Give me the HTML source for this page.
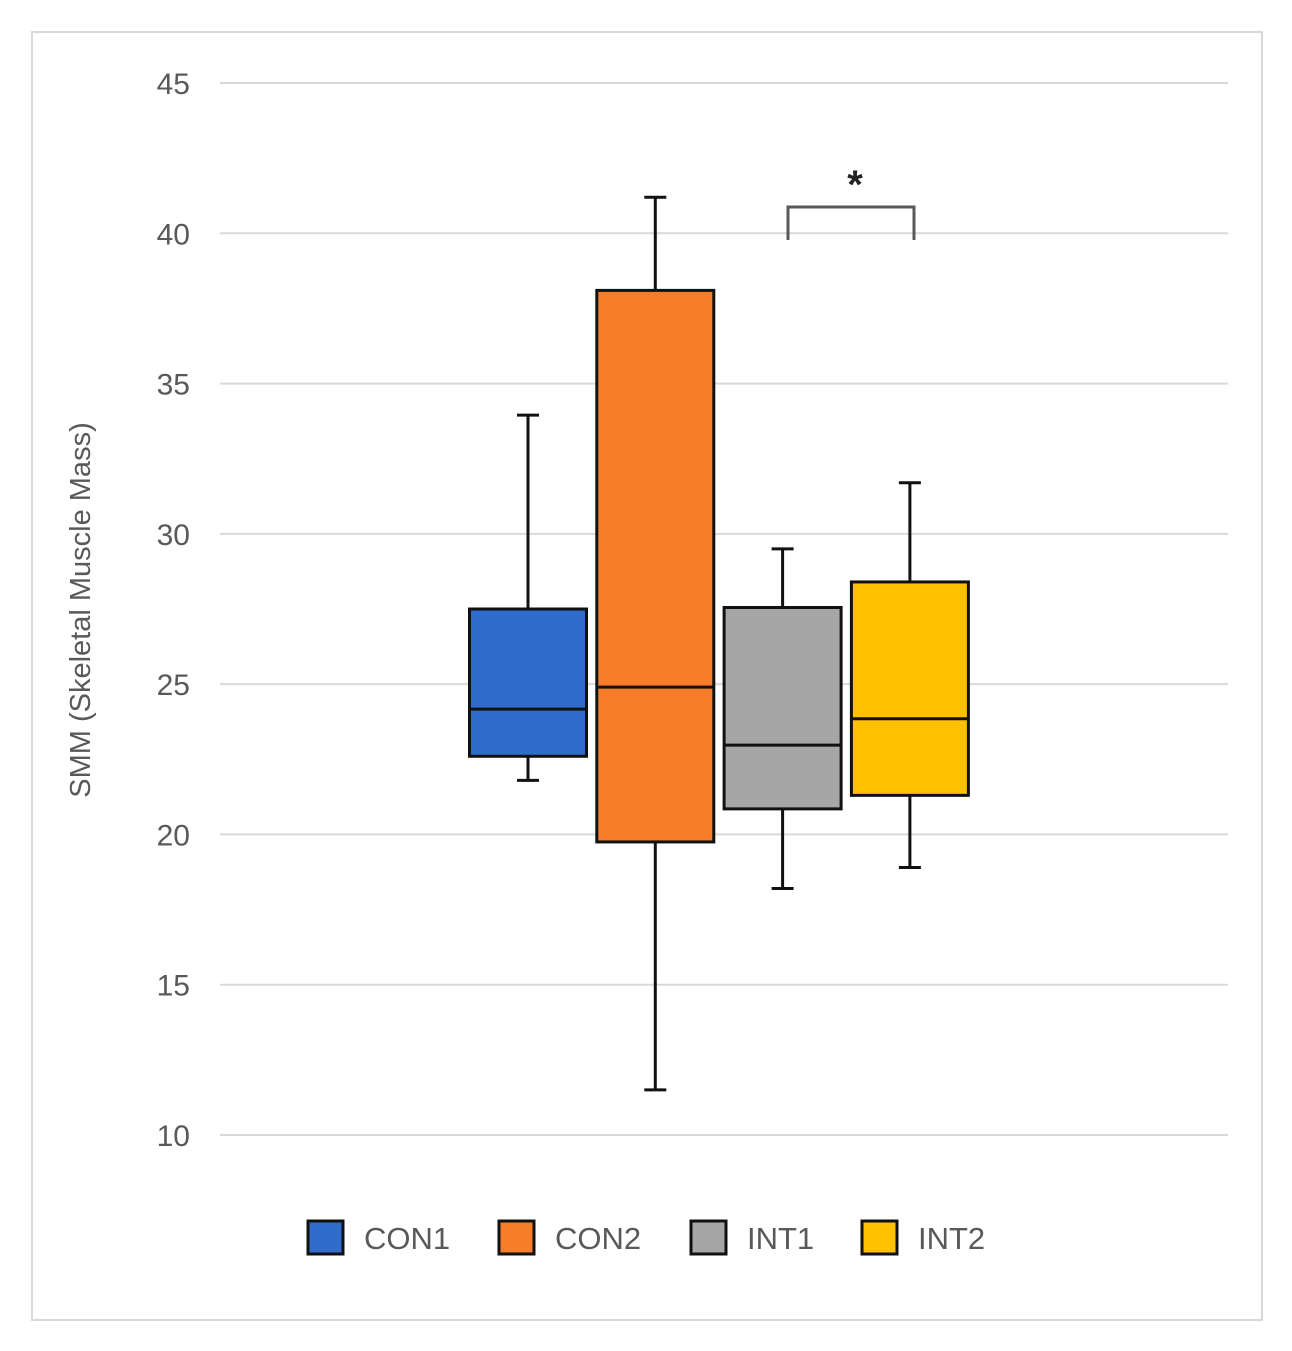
<!DOCTYPE html>
<html><head><meta charset="utf-8"><style>
body{margin:0;background:#fff;}
svg{display:block;font-family:"Liberation Sans",sans-serif;}
</style></head><body>
<svg id="chart" width="1292" height="1351" viewBox="0 0 1292 1351">
<rect x="32" y="32" width="1230" height="1288" fill="#fff" stroke="#d9d9d9" stroke-width="2"/>
<g id="grid"></g><g id="boxes"></g><g id="legend"></g>
<text x="90" y="610" transform="rotate(-90 90 610)" text-anchor="middle" font-size="29" fill="#595959">SMM (Skeletal Muscle Mass)</text>
<path d="M788 240 V207 H914 V240" fill="none" stroke="#595959" stroke-width="3"/>
<text x="855" y="198" text-anchor="middle" font-size="40" font-weight="bold" fill="#222">*</text>
</svg>
<script>
const categories=["CON1","CON2","INT1","INT2"];
const mins=[21.8,11.5,18.2,18.9];
const q1s=[22.6,19.75,20.85,21.3];
const medians=[24.17,24.9,22.97,23.85];
const q3s=[27.5,38.1,27.55,28.4];
const maxs=[33.95,41.2,29.5,31.7];
const yTicks=[10,15,20,25,30,35,40,45];
const colors=["#2f6ccb","#f97d28","#a6a6a6","#ffc000"];
const NS="http://www.w3.org/2000/svg";
const y=v=>1135-(v-10)*(1052/35);
const x=i=>528+i*127.3;
function mk(t,a,p){const e=document.createElementNS(NS,t);for(const k in a)e.setAttribute(k,a[k]);p.appendChild(e);return e;}
const grid=document.getElementById('grid');
yTicks.forEach(t=>{
 const l=mk('line',{x1:220,x2:1228,y1:y(t),y2:y(t),stroke:'#d9d9d9','stroke-width':2},grid);
 
 
 const tx=mk('text',{x:190,y:y(t)+11,'text-anchor':'end','font-size':30,fill:'#595959'},grid);
 tx.textContent=t;
 
 
});
const bx=document.getElementById('boxes');
categories.forEach((c,i)=>{
 const g=mk('g',{},bx);
 
 
 const cx=x(i),w=117;
 mk('line',{x1:cx,x2:cx,y1:y(maxs[i]),y2:y(q3s[i]),stroke:'#111','stroke-width':3},g);
 mk('line',{x1:cx,x2:cx,y1:y(q1s[i]),y2:y(mins[i]),stroke:'#111','stroke-width':3},g);
 mk('line',{x1:cx-11,x2:cx+11,y1:y(maxs[i]),y2:y(maxs[i]),stroke:'#111','stroke-width':3},g);
 mk('line',{x1:cx-11,x2:cx+11,y1:y(mins[i]),y2:y(mins[i]),stroke:'#111','stroke-width':3},g);
 mk('rect',{x:cx-w/2,y:y(q3s[i]),width:w,height:y(q1s[i])-y(q3s[i]),fill:colors[i],stroke:'#111','stroke-width':3},g);
 mk('line',{x1:cx-w/2,x2:cx+w/2,y1:y(medians[i]),y2:y(medians[i]),stroke:'#111','stroke-width':3},g);
});
const lg=document.getElementById('legend');
const lx=[308,499,691,862];
categories.forEach((c,i)=>{
 const g=mk('g',{},lg);
 
 
 mk('rect',{x:lx[i],y:1221,width:35,height:33,fill:colors[i],stroke:'#111','stroke-width':3},g);
 const t=mk('text',{x:lx[i]+56,y:1249,'font-size':31,fill:'#595959'},g);
 t.textContent=c;
});
</script>
</body></html>
